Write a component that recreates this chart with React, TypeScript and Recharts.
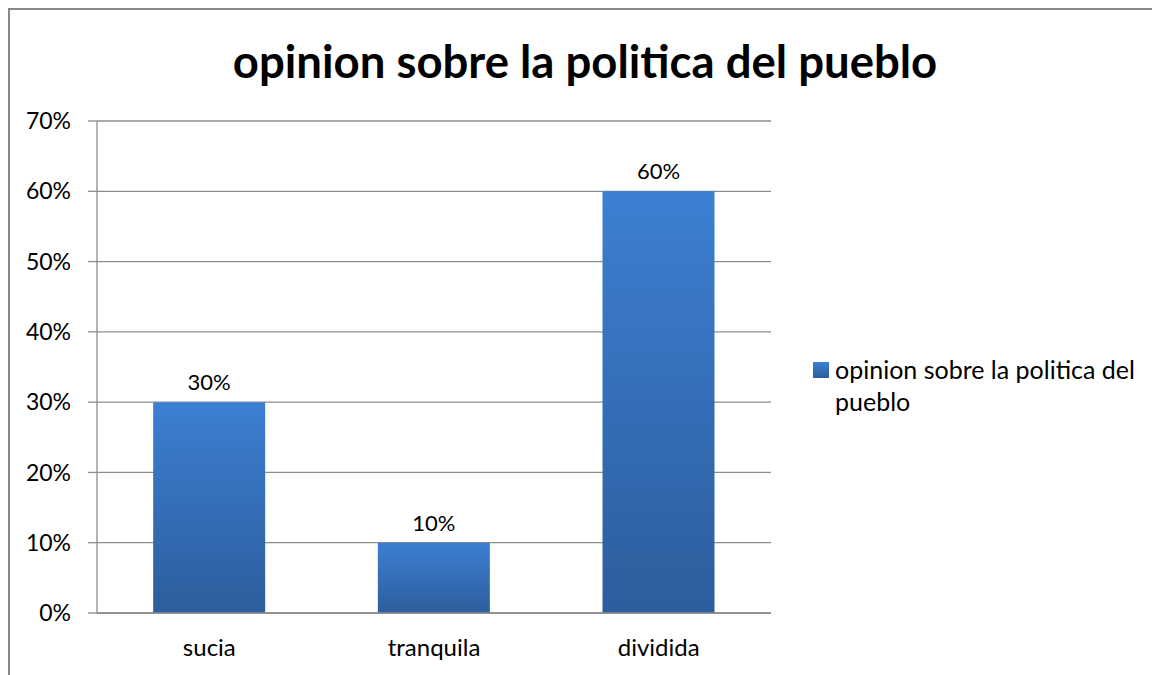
import React from "react";
import { BarChart, Bar, XAxis, YAxis, CartesianGrid, LabelList } from "recharts";

const categories = ["sucia", "tranquila", "dividida"];
const seriesValues = [0.3, 0.1, 0.6];
const yTicks = [0, 0.1, 0.2, 0.3, 0.4, 0.5, 0.6, 0.7];
const seriesName = "opinion sobre la politica del pueblo";
const title = "opinion sobre la politica del pueblo";

const data = categories.map((c, i) => ({ name: c, value: seriesValues[i] }));
const FONT = "Lato, 'Open Sans', sans-serif";
const pct = (v: number) => `${Math.round(v * 100)}%`;
const AX = "#8c8c8c";

export default function App() {
  return (
    <div style={{ position: "relative", width: 1149, height: 700, borderLeft: "2px solid #888", borderTop: "2px solid #888", borderRight: "1px solid #ddd", background: "#fff", fontFamily: FONT }}>
      <div style={{ position: "absolute", left: 0, width: 1150, top: 24, textAlign: "center", fontSize: 45.5, fontWeight: 700, color: "#000", lineHeight: "54px" }}>
        {title}
      </div>
      <div style={{ position: "absolute", left: 0, top: 0 }}>
        <BarChart width={1150} height={665} data={data} margin={{ top: 111, right: 389, bottom: 21, left: 0 }} barCategoryGap="25%">
          <defs>
            <linearGradient id="barGrad" x1="0" y1="0" x2="0" y2="1">
              <stop offset="0%" stopColor="#3C7FD2" />
              <stop offset="100%" stopColor="#2D5D9C" />
            </linearGradient>
          </defs>
          <CartesianGrid vertical={false} stroke={AX} strokeWidth={1.3} />
          <XAxis dataKey="name" xAxisId="cat" height={40} axisLine={{ stroke: AX, strokeWidth: 1.3 }} tickLine={false} tick={{ fill: "#000", fontSize: 24, fontFamily: FONT }} tickMargin={20} />
          <XAxis xAxisId="edge" type="number" domain={[0, 3]} ticks={[0, 1, 2, 3]} tick={false} tickSize={8} axisLine={false} tickLine={{ stroke: AX, strokeWidth: 1.3 }} height={1} />
          <YAxis width={87} domain={[0, 0.7]} ticks={yTicks} tickFormatter={pct} axisLine={{ stroke: AX, strokeWidth: 1.3 }} tickLine={{ stroke: AX, strokeWidth: 1.3 }} tickSize={9} tickMargin={17} tick={{ fill: "#000", fontSize: 23, fontFamily: FONT }} />
          <Bar dataKey="value" xAxisId="cat" name={seriesName} fill="url(#barGrad)" isAnimationActive={false}>
            <LabelList dataKey="value" position="top" offset={12} formatter={(v: any) => pct(Number(v))} style={{ fill: "#000", fontSize: 22, fontFamily: FONT }} />
          </Bar>
        </BarChart>
      </div>
      <div style={{ position: "absolute", left: 803, top: 343, display: "flex", alignItems: "flex-start", fontSize: 25, color: "#000", lineHeight: "32px" }}>
        <div style={{ width: 16, height: 16, marginTop: 9, marginRight: 6, flex: "none", background: "linear-gradient(#3C7FD2, #2D5D9C)" }} />
        <div style={{ width: 320 }}>{seriesName}</div>
      </div>
    </div>
  );
}
